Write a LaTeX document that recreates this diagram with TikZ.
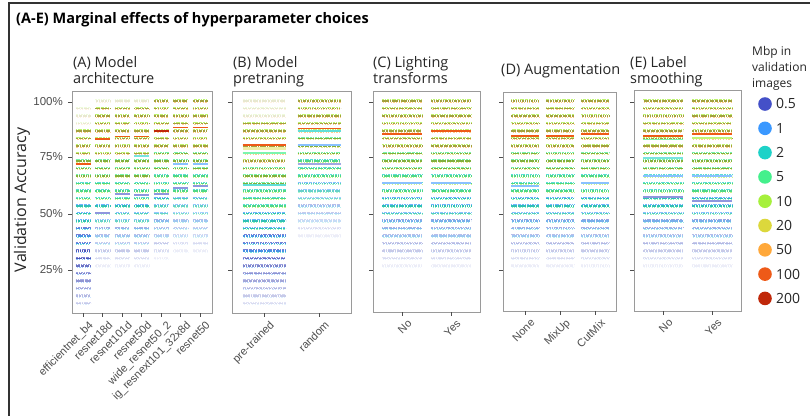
\documentclass[tikz,border=0pt]{standalone}
\usepackage{fontspec}
\setmainfont{Open Sans}
\newfontfamily\axisfont{Liberation Sans}
\usetikzlibrary{positioning}

% Mbp colour scale
\definecolor{mbpA}{HTML}{4450C8}
\definecolor{mbpB}{HTML}{3A98FF}
\definecolor{mbpC}{HTML}{1ED2C8}
\definecolor{mbpD}{HTML}{44F08C}
\definecolor{mbpE}{HTML}{A6F03C}
\definecolor{mbpF}{HTML}{DCD83C}
\definecolor{mbpG}{HTML}{FFA83A}
\definecolor{mbpH}{HTML}{EE5A18}
\definecolor{mbpI}{HTML}{C0280A}
\definecolor{axisgrey}{HTML}{4D4D4D}
\definecolor{framegrey}{HTML}{9A9A9A}

\newcommand\mbpname[1]{\ifcase#1 mbpA\or mbpB\or mbpC\or mbpD\or mbpE\or mbpF\or mbpG\or mbpH\or mbpI\else mbpI\fi}

% one jittered column: x, half width, first dense row, last dense row, colour shift, phase
\newcommand\jittercol[6]{%
  \foreach \k in {0,...,27}{%
    \pgfmathsetmacro\op{(\k<#3-3) ? 0 : ((\k<#3) ? 0.22 : ((\k<#4+1) ? 0.9 : max(0,0.85*(1-(\k-#4)/9))))}%
    \pgfmathtruncatemacro\m{max(0,min(5,6-floor((\k+#5-2)/3)))}%
    \pgfmathtruncatemacro\mlo{max(0,\m-1)}%
    \pgfmathtruncatemacro\mhi{min(8,\m+1)}%
    \pgfmathtruncatemacro\dk{\m>3 ? 70 : 88}%
    \edef\cM{\mbpname{\m}}\edef\cL{\mbpname{\mlo}}\edef\cH{\mbpname{\mhi}}%
    \pgfmathsetmacro\yy{101+7.5*\k}%
    \pgfmathsetmacro\opb{0.8*\op}%
    \pgfmathsetmacro\opc{0.65*\op}%
    \pgfmathsetmacro\ph{mod(2.3*\k+#6*3,6)}%
    \ifdim\op pt>0.02pt
      \draw[\cM!\dk!black, opacity=\op, line width=1.7pt, dash pattern=on 1.8pt off 0.5pt on 0.9pt off 0.7pt on 2.6pt off 0.4pt on 1.2pt off 0.9pt, dash phase=\ph pt] (#1-#2,\yy) -- (#1+#2,\yy);
      \draw[\cL, opacity=\opb, line width=1.2pt, dash pattern=on 1.2pt off 1pt on 2pt off 0.6pt, dash phase=\ph pt+0.6pt] (#1-#2,\yy-1.4) -- (#1+#2,\yy-1.4);
      \draw[\cH, opacity=\opc, line width=1pt, dash pattern=on 0.9pt off 1.8pt on 1.5pt off 1.2pt, dash phase=\ph pt+1.3pt] (#1-#2+0.5,\yy+1.4) -- (#1+#2,\yy+1.4);
    \fi
  }%
}

\tikzset{
  panelbox/.style={draw=framegrey, line width=0.9pt},
  axistick/.style={draw=axisgrey, line width=0.9pt},
  ylab/.style={font=\axisfont\fontsize{11.5}{12}\selectfont, text=axisgrey, anchor=east, inner sep=0pt},
  xlab/.style={font=\axisfont\fontsize{11}{12}\selectfont, text=axisgrey, anchor=north east, rotate=45, inner sep=0pt},
  facet/.style={font=\fontsize{14.5}{16}\selectfont, text=black!85, anchor=base west, inner sep=0pt},
  legtitle/.style={font=\fontsize{12}{14}\selectfont, text=black!85, anchor=base west, inner sep=0pt},
  meanline/.style={line width=1.1pt},
  swatch/.style={circle, inner sep=0pt, minimum size=13.6pt},
  swatchlab/.style={font=\fontsize{14}{16}\selectfont, text=black!85, anchor=west, inner sep=0pt},
}

\begin{document}
\begin{tikzpicture}[x=1pt, y=-1pt]
  \path[use as bounding box, fill=white] (0,0) rectangle (810,416);
  % outer frame and title
  \draw[line width=1.3pt, black!80] (810,3) -- (9,3) -- (9,416);
  \node[font=\bfseries\fontsize{14.5}{16}\selectfont, anchor=base west, inner sep=0pt] (title) at (16,23) {(A-E) Marginal effects of hyperparameter choices};

  % y axis
  \node[rotate=90, font=\fontsize{16}{18}\selectfont, text=black!85] (yaxis) at (22,200) {Validation Accuracy};
  \foreach \v/\yy in {100/102, 75/157, 50/214, 25/270}{
    \node[ylab] (ylab\v) at (63,\yy) {\v\%};
  }
  \foreach \px in {72,232,373,503,634}{
    \foreach \yy in {102,157,214,270}{
      \draw[axistick] (\px-4,\yy) -- (\px,\yy);
    }
  }

  % facet titles
  \node[facet] (factA) at (73,67) {(A) Model};
  \node[facet] (factA2) at (73,83) {architecture};
  \node[facet] (factB) at (233,67) {(B) Model};
  \node[facet] (factB2) at (233,83) {pretraning};
  \node[facet] (factC) at (373,67) {(C) Lighting};
  \node[facet] (factC2) at (373,83) {transforms};
  \node[facet] (factD) at (501,74) {(D) Augmentation};
  \node[facet] (factE) at (630,67) {(E) Label};
  \node[facet] (factE2) at (630,83) {smoothing};

  % (A) model architecture
  \jittercol{83}{7.5}{4}{21}{0}{0.3}
  \jittercol{102.5}{7.5}{1}{14}{0}{1.1}
  \jittercol{122}{7.5}{1}{14}{0}{0.7}
  \jittercol{141.5}{7.5}{1}{14}{0}{1.5}
  \jittercol{161}{7.5}{0}{13}{1}{0.2}
  \jittercol{180.5}{7.5}{0}{12}{1}{0.9}
  \jittercol{200}{7.5}{0}{12}{1}{1.8}
  \draw[meanline, mbpH] (75.5,164) -- (90.5,164);
  \draw[meanline, mbpH] (95,139) -- (110,139);
  \draw[meanline, mbpA!60] (95,213) -- (110,213);
  \draw[meanline, mbpH] (114.5,136.5) -- (129.5,136.5);
  \draw[meanline, mbpA!60] (114.5,194) -- (129.5,194);
  \draw[meanline, mbpH] (134,136.5) -- (149,136.5);
  \draw[meanline, mbpC!60] (134,156) -- (149,156);
  \draw[meanline, mbpA!60] (134,195) -- (149,195);
  \draw[meanline, mbpI] (153.5,131) -- (168.5,131);
  \draw[meanline, mbpA!60] (153.5,194) -- (168.5,194);
  \draw[meanline, mbpH] (173,127.5) -- (188,127.5);
  \draw[meanline, mbpB!60] (173,164) -- (188,164);
  \draw[meanline, mbpA!60] (173,188) -- (188,188);
  \draw[meanline, mbpH] (192.5,127.5) -- (207.5,127.5);
  \draw[meanline, mbpB!60] (192.5,164) -- (207.5,164);
  \draw[meanline, mbpA!60] (192.5,186) -- (207.5,186);
  \draw[panelbox] (72,91) rectangle (212,313);
  \foreach \tx/\lab [count=\i] in {83/efficientnet\_b4, 102.5/resnet18d, 122/resnet101d, 141.5/resnet50d, 161/wide\_resnet50\_2, 180.5/ig\_resnext101\_32x8d, 200/resnet50}{
    \draw[axistick] (\tx,313) -- (\tx,317);
    \node[xlab] (xa\i) at (\tx+5,320) {\lab};
  }

  % (B) model pretraining
  \jittercol{264}{21.5}{3}{20}{-1}{0.4}
  \jittercol{319}{21.5}{0}{10}{3}{1.2}
  \draw[line width=3pt, mbpF!45] (242.5,148.5) -- (285.5,148.5);
  \draw[meanline, mbpH] (242.5,145) -- (285.5,145);
  \draw[meanline, mbpD!70] (242.5,153) -- (285.5,153);
  \draw[meanline, mbpC!70] (242.5,185) -- (285.5,185);
  \draw[meanline, mbpH] (297.5,128.5) -- (340.5,128.5);
  \draw[meanline, mbpC!70] (297.5,131) -- (340.5,131);
  \draw[meanline, mbpB!60] (297.5,145) -- (340.5,145);
  \draw[meanline, mbpA!50] (297.5,164) -- (340.5,164);
  \draw[panelbox] (232,91) rectangle (351,313);
  \foreach \tx/\lab [count=\i] in {264/pre-trained, 319/random}{
    \draw[axistick] (\tx,313) -- (\tx,317);
    \node[xlab] (xb\i) at (\tx+5,320) {\lab};
  }

  % (C) lighting transforms
  \jittercol{402}{20}{0}{14}{1}{0.5}
  \jittercol{451}{20}{0}{14}{1}{1.4}
  \draw[meanline, mbpH] (382,134) -- (422,134);
  \draw[meanline, mbpH] (431,131) -- (471,131);
  \draw[meanline, mbpB!60] (382,183) -- (422,183);
  \draw[meanline, mbpB!60] (431,183) -- (471,183);
  \draw[panelbox] (373,91) rectangle (480,312);
  \foreach \tx/\lab [count=\i] in {402/No, 451/Yes}{
    \draw[axistick] (\tx,312) -- (\tx,316);
    \node[xlab] (xc\i) at (\tx+5,319) {\lab};
  }

  % (D) augmentation
  \jittercol{525}{14}{0}{14}{1}{0.8}
  \jittercol{560}{14}{0}{14}{1}{0.1}
  \jittercol{595}{14}{0}{14}{1}{1.6}
  \draw[meanline, mbpH] (511,136) -- (539,136);
  \draw[meanline, mbpH] (546,136) -- (574,136);
  \draw[meanline, mbpH] (581,134) -- (609,134);
  \draw[meanline, mbpB!60] (511,186) -- (539,186);
  \draw[meanline, mbpB!60] (581,183) -- (609,183);
  \draw[panelbox] (503,92) rectangle (616,311);
  \foreach \tx/\lab [count=\i] in {525/None, 560/MixUp, 595/CutMix}{
    \draw[axistick] (\tx,311) -- (\tx,315);
    \node[xlab] (xd\i) at (\tx+5,318) {\lab};
  }

  % (E) label smoothing
  \jittercol{663}{20}{0}{14}{1}{0.6}
  \jittercol{712}{20}{0}{14}{1}{1.3}
  \draw[meanline, mbpH] (643,136) -- (683,136);
  \draw[meanline, mbpH] (692,134) -- (732,134);
  \draw[meanline, mbpD!70] (643,139.5) -- (683,139.5);
  \draw[meanline, mbpE!70] (692,138) -- (732,138);
  \draw[meanline, mbpC!60] (643,158) -- (683,158);
  \draw[meanline, mbpB!60] (643,176) -- (683,176);
  \draw[meanline, mbpB!60] (692,176) -- (732,176);
  \draw[meanline, mbpA!60] (643,197) -- (683,197);
  \draw[meanline, mbpA!60] (692,201) -- (732,201);
  \draw[panelbox] (634,90) rectangle (741,311);
  \foreach \tx/\lab [count=\i] in {663/No, 712/Yes}{
    \draw[axistick] (\tx,311) -- (\tx,315);
    \node[xlab] (xe\i) at (\tx+5,318) {\lab};
  }

  % legend
  \node[legtitle] (legtitle) at (752,55.5) {Mbp in};
  \node[legtitle] (legtitle2) at (752,71.5) {validation};
  \node[legtitle] (legtitle3) at (752,87.5) {images};
  \foreach \lab [count=\i from 0] in {0.5,1,2,5,10,20,50,100,200}{
    \pgfmathsetmacro\ly{104+24.3*\i}
    \edef\cc{\mbpname{\i}}
    \node[swatch, fill=\cc] (sw\i) at (765,\ly) {};
    \node[swatchlab, right=4pt of sw\i] (swl\i) {\lab};
  }
\end{tikzpicture}
\end{document}
